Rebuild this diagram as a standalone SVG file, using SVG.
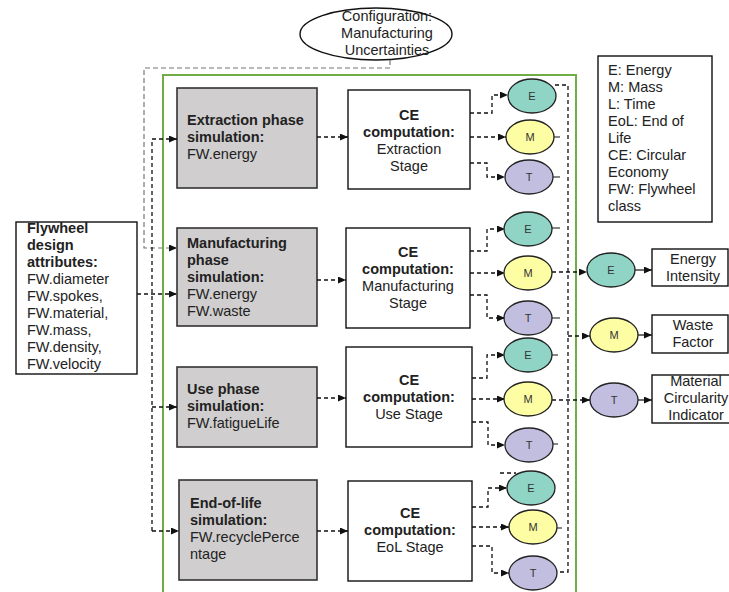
<svg xmlns="http://www.w3.org/2000/svg" width="729" height="592" viewBox="0 0 729 592">
<style>
.t{font-family:"Liberation Sans",Arial,sans-serif;font-size:14.5px;fill:#222}
.b{font-weight:bold}
.mid{text-anchor:middle}
.s{font-size:11px;fill:#333}
.box{fill:#fff;stroke:#111;stroke-width:1.4}
.sim{fill:#d0cece;stroke:#333;stroke-width:1.6}
.c{fill:none;stroke:#111;stroke-width:1.3;stroke-dasharray:4 3}
.g{fill:none;stroke:#777;stroke-width:1.2;stroke-dasharray:5 3}
.k{fill:none;stroke:#111;stroke-width:1.2}
.E{fill:#8fd4c5;stroke:#222;stroke-width:1.3}
.M{fill:#fdfda3;stroke:#222;stroke-width:1.3}
.T{fill:#c1bedf;stroke:#222;stroke-width:1.3}
</style>
<defs>
<marker id="ah" markerWidth="8" markerHeight="7" refX="8" refY="3.5" orient="auto" markerUnits="userSpaceOnUse">
<path d="M0,0 L8,3.5 L0,7 z" fill="#111"/>
</marker>
</defs>
<rect width="729" height="592" fill="#fff"/>

<g id="container">
<path d="M163,592 V75 H576 V592" fill="none" stroke="#70ad47" stroke-width="2"/>
</g>

<g id="config">
<ellipse cx="376" cy="34" rx="76" ry="26" fill="#fff" stroke="#111" stroke-width="1.4"/>
<text class="t mid"><tspan x="387" y="21">Configuration:</tspan><tspan x="387" y="38">Manufacturing</tspan><tspan x="387" y="55">Uncertainties</tspan></text>
</g>

<g id="design">
<rect class="box" x="16" y="222" width="121" height="152"/>
<text class="t"><tspan class="b" x="27" y="233">Flywheel</tspan><tspan class="b" x="27" y="250">design</tspan><tspan class="b" x="27" y="267">attributes:</tspan><tspan x="27" y="284">FW.diameter</tspan><tspan x="27" y="301">FW.spokes,</tspan><tspan x="27" y="318">FW.material,</tspan><tspan x="27" y="335">FW.mass,</tspan><tspan x="27" y="352">FW.density,</tspan><tspan x="27" y="369">FW.velocity</tspan></text>
</g>

<g id="legend">
<rect class="box" x="598" y="56" width="114" height="166"/>
<text class="t"><tspan x="608" y="75">E: Energy</tspan><tspan x="608" y="92">M: Mass</tspan><tspan x="608" y="109">L: Time</tspan><tspan x="608" y="126">EoL: End of</tspan><tspan x="608" y="143">Life</tspan><tspan x="608" y="160">CE: Circular</tspan><tspan x="608" y="177">Economy</tspan><tspan x="608" y="194">FW: Flywheel</tspan><tspan x="608" y="211">class</tspan></text>
</g>

<g id="sim-extraction">
<rect class="sim" x="177" y="88" width="140" height="100"/>
<text class="t"><tspan class="b" x="187" y="125">Extraction phase</tspan><tspan class="b" x="187" y="142">simulation:</tspan><tspan x="187" y="159">FW.energy</tspan></text>
</g>
<g id="sim-manufacturing">
<rect class="sim" x="177" y="228" width="140" height="98"/>
<text class="t"><tspan class="b" x="187" y="248">Manufacturing</tspan><tspan class="b" x="187" y="265">phase</tspan><tspan class="b" x="187" y="282">simulation:</tspan><tspan x="187" y="299">FW.energy</tspan><tspan x="187" y="316">FW.waste</tspan></text>
</g>
<g id="sim-use">
<rect class="sim" x="177" y="367" width="140" height="80"/>
<text class="t"><tspan class="b" x="187" y="394">Use phase</tspan><tspan class="b" x="187" y="411">simulation:</tspan><tspan x="187" y="428">FW.fatigueLife</tspan></text>
</g>
<g id="sim-eol">
<rect class="sim" x="179" y="480" width="138" height="100"/>
<text class="t"><tspan class="b" x="190" y="508">End-of-life</tspan><tspan class="b" x="190" y="525">simulation:</tspan><tspan x="190" y="542">FW.recyclePerce</tspan><tspan x="190" y="559">ntage</tspan></text>
</g>

<g id="ce-extraction">
<rect class="box" x="348" y="90" width="122" height="99"/>
<text class="t mid"><tspan class="b" x="409" y="120">CE</tspan><tspan class="b" x="409" y="137">computation:</tspan><tspan x="409" y="154">Extraction</tspan><tspan x="409" y="171">Stage</tspan></text>
</g>
<g id="ce-manufacturing">
<rect class="box" x="346" y="228" width="124" height="100"/>
<text class="t mid"><tspan class="b" x="408" y="257">CE</tspan><tspan class="b" x="408" y="274">computation:</tspan><tspan x="408" y="291">Manufacturing</tspan><tspan x="408" y="308">Stage</tspan></text>
</g>
<g id="ce-use">
<rect class="box" x="346" y="347" width="126" height="100"/>
<text class="t mid"><tspan class="b" x="409" y="385">CE</tspan><tspan class="b" x="409" y="402">computation:</tspan><tspan x="409" y="419">Use Stage</tspan></text>
</g>
<g id="ce-eol">
<rect class="box" x="348" y="481" width="124" height="100"/>
<text class="t mid"><tspan class="b" x="410" y="518">CE</tspan><tspan class="b" x="410" y="535">computation:</tspan><tspan x="410" y="552">EoL Stage</tspan></text>
</g>

<g id="connectors">
<path class="g" d="M390,60 V68 H144 V248 H177" marker-end="url(#ah)"/>
<path class="c" d="M152,531 V139 H177" marker-end="url(#ah)"/>
<path class="c" d="M137,294 H177" marker-end="url(#ah)"/>
<path class="c" d="M152,407 H177" marker-end="url(#ah)"/>
<path class="c" d="M152,531 H179" marker-end="url(#ah)"/>
<path class="c" d="M317,137 H348" marker-end="url(#ah)"/>
<path class="c" d="M317,280 H346" marker-end="url(#ah)"/>
<path class="c" d="M317,398 H346" marker-end="url(#ah)"/>
<path class="c" d="M317,531 H348" marker-end="url(#ah)"/>

<path class="c" d="M470,113 H492 V95 H508" marker-end="url(#ah)"/>
<path class="c" d="M470,137 H506" marker-end="url(#ah)"/>
<path class="c" d="M470,163 H487 V177 H505" marker-end="url(#ah)"/>
<path class="c" d="M470,251 H487 V229 H505" marker-end="url(#ah)"/>
<path class="c" d="M470,273 H505" marker-end="url(#ah)"/>
<path class="c" d="M470,295 H487 V318 H505" marker-end="url(#ah)"/>
<path class="c" d="M472,378 H487 V355 H505" marker-end="url(#ah)"/>
<path class="c" d="M472,399 H505" marker-end="url(#ah)"/>
<path class="c" d="M472,422 H488 V445 H505" marker-end="url(#ah)"/>
<path class="c" d="M472,507 H488 V488 H507" marker-end="url(#ah)"/>
<path class="c" d="M500,473 H516"/>
<path class="c" d="M472,527 H509" marker-end="url(#ah)"/>
<path class="c" d="M472,546 H492 V573 H509" marker-end="url(#ah)"/>

<path class="c" d="M555,85 H568 V572 H556"/>
<path class="k" d="M553,137 H560 M553,177 H560 M552,228 H560 M552,318 H560 M552,355 H558 M552,444 H558 M556,528 H562"/>
<path class="c" d="M552,272 H587" marker-end="url(#ah)"/>
<path class="c" d="M568,336 H590" marker-end="url(#ah)"/>
<path class="c" d="M552,400 H590" marker-end="url(#ah)"/>
<path class="k" d="M635,270 H652" marker-end="url(#ah)"/>
<path class="k" d="M638,335 H652" marker-end="url(#ah)"/>
<path class="k" d="M638,400 H652" marker-end="url(#ah)"/>
</g>

<g id="e1"><ellipse class="E" cx="532" cy="96" rx="24" ry="17"/><text class="t s mid" x="532" y="100">E</text></g>
<g id="m1"><ellipse class="M" cx="530" cy="137" rx="24" ry="17"/><text class="t s mid" x="530" y="141">M</text></g>
<g id="t1"><ellipse class="T" cx="529" cy="177" rx="24" ry="17"/><text class="t s mid" x="529" y="181">T</text></g>
<g id="e2"><ellipse class="E" cx="528" cy="229" rx="24" ry="17"/><text class="t s mid" x="528" y="233">E</text></g>
<g id="m2"><ellipse class="M" cx="528" cy="273" rx="24" ry="17"/><text class="t s mid" x="528" y="277">M</text></g>
<g id="t2"><ellipse class="T" cx="528" cy="318" rx="24" ry="17"/><text class="t s mid" x="528" y="322">T</text></g>
<g id="e3"><ellipse class="E" cx="528" cy="355" rx="24" ry="17"/><text class="t s mid" x="528" y="359">E</text></g>
<g id="m3"><ellipse class="M" cx="528" cy="399" rx="24" ry="17"/><text class="t s mid" x="528" y="403">M</text></g>
<g id="t3"><ellipse class="T" cx="529" cy="445" rx="24" ry="17"/><text class="t s mid" x="529" y="449">T</text></g>
<g id="e4"><ellipse class="E" cx="531" cy="488" rx="24" ry="17"/><text class="t s mid" x="531" y="492">E</text></g>
<g id="m4"><ellipse class="M" cx="533" cy="527" rx="24" ry="17"/><text class="t s mid" x="533" y="531">M</text></g>
<g id="t4"><ellipse class="T" cx="533" cy="573" rx="24" ry="17"/><text class="t s mid" x="533" y="577">T</text></g>

<g id="e-out"><ellipse class="E" cx="611" cy="270" rx="24" ry="17"/><text class="t s mid" x="611" y="274">E</text></g>
<g id="m-out"><ellipse class="M" cx="614" cy="335" rx="24" ry="17"/><text class="t s mid" x="614" y="339">M</text></g>
<g id="t-out"><ellipse class="T" cx="614" cy="400" rx="24" ry="17"/><text class="t s mid" x="614" y="404">T</text></g>

<g id="energy-intensity">
<rect class="box" x="652" y="249" width="76" height="37"/>
<text class="t mid"><tspan x="693" y="264">Energy</tspan><tspan x="693" y="281">Intensity</tspan></text>
</g>
<g id="waste-factor">
<rect class="box" x="652" y="315" width="76" height="38"/>
<text class="t mid"><tspan x="693" y="330">Waste</tspan><tspan x="693" y="347">Factor</tspan></text>
</g>
<g id="mci">
<rect class="box" x="652" y="375" width="80" height="48"/>
<text class="t mid"><tspan x="696" y="386">Material</tspan><tspan x="696" y="403">Circularity</tspan><tspan x="696" y="420">Indicator</tspan></text>
</g>
</svg>
